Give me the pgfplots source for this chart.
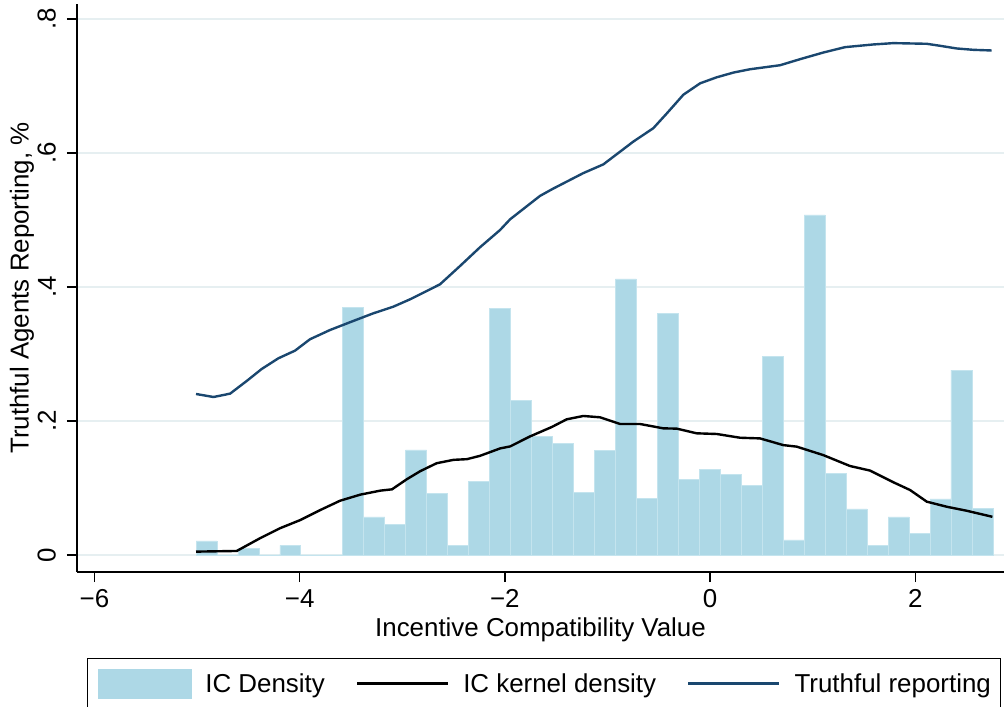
\documentclass[border=0pt]{standalone}
\usepackage{fontspec}
\setmainfont{Liberation Sans}
\usepackage{pgfplots}
\pgfplotsset{compat=1.18}
\definecolor{icblue}{RGB}{173,216,230}
\definecolor{icedge}{RGB}{196,228,238}
\definecolor{navyst}{RGB}{26,71,111}
\definecolor{gridc}{RGB}{230,239,241}
\pgfplotsset{
  lineleg/.style={legend image code/.code={\draw[##1] (0bp,0bp) -- (91bp,0bp);}},
  barleg/.style={legend image code/.code={\fill[icblue] (0bp,-14.5bp) rectangle (93bp,14.5bp);}},
}
\begin{document}
\begin{tikzpicture}
\begin{axis}[
  at={(0,0)}, anchor=south west,
  scale only axis,
  width=927bp, height=568bp,
  xmin=-6.170, xmax=2.865,
  ymin=-0.0254, ymax=0.8224,
  axis lines*=left,
  axis line style={black, line width=1.3bp},
  every tick/.style={black, line width=1.3bp},
  tick align=outside,
  major tick length=10bp,
  xtick={-6,-4,-2,0,2},
  xticklabels={−6,−4,−2,0,2},
  ytick={0,0.2,0.4,0.6,0.8},
  yticklabels={0,.2,.4,.6,.8},
  ymajorgrids,
  grid style={gridc, line width=2bp},
  tick label style={font=\fontsize{26}{30}\selectfont},
  xticklabel style={anchor=north, inner sep=0pt},
  xticklabel shift=7bp,
  yticklabel style={rotate=90, anchor=south, inner sep=0pt},
  yticklabel shift=11bp,
  label style={font=\fontsize{26}{30}\selectfont},
  xlabel={Incentive Compatibility Value},
  xlabel style={at={(axis description cs:0.5,0)}, anchor=base, yshift=-64bp, inner sep=0pt},
  ylabel={Truthful Agents Reporting, \%},
  ylabel style={at={(axis description cs:0,0.5)}, anchor=center, yshift=55bp, inner sep=0pt},
  legend columns=3,
  legend style={at={(rel axis cs:0,0)}, anchor=north west, xshift=10bp, yshift=-86bp,
    draw=black, line width=1.2bp, inner xsep=10bp, inner ysep=10bp,
    font=\fontsize{26}{30}\selectfont, cells={anchor=west}, nodes={inner sep=0pt},
    /tikz/every odd column/.append style={column sep=14bp},
    /tikz/every even column/.append style={column sep=31bp}},
]
\addplot[ybar interval, fill=icblue, draw=icedge, line width=0.8bp, barleg] coordinates {
(-5.010,0.021) (-4.806,0) (-4.601,0.0095) (-4.397,0) (-4.192,0.0145)
(-3.988,0) (-3.784,0) (-3.579,0.370) (-3.375,0.0567) (-3.170,0.0453)
(-2.966,0.1567) (-2.762,0.0915) (-2.557,0.0149) (-2.353,0.1095) (-2.148,0.3676)
(-1.944,0.2313) (-1.740,0.177) (-1.535,0.1667) (-1.331,0.0935) (-1.126,0.1557)
(-0.922,0.412) (-0.718,0.085) (-0.513,0.360) (-0.309,0.1124) (-0.104,0.128)
(0.100,0.1204) (0.304,0.1035) (0.509,0.296) (0.713,0.0224) (0.918,0.5075)
(1.122,0.1214) (1.326,0.0687) (1.531,0.0139) (1.735,0.0567) (1.940,0.0318)
(2.144,0.0836) (2.348,0.276) (2.553,0.070) (2.757,0.070)
};
\addlegendentry{IC Density}
\addplot[black, line width=2.4bp, lineleg] coordinates {
(-5.010,0.005) (-4.613,0.006) (-4.386,0.025) (-4.190,0.040) (-3.996,0.052)
(-3.800,0.067) (-3.606,0.081) (-3.410,0.090) (-3.216,0.096) (-3.100,0.098)
(-2.956,0.113) (-2.826,0.125) (-2.664,0.137) (-2.500,0.142) (-2.370,0.143)
(-2.242,0.148) (-2.047,0.159) (-1.949,0.162) (-1.754,0.177) (-1.543,0.191)
(-1.397,0.2025) (-1.235,0.2075) (-1.072,0.2055) (-0.877,0.1955) (-0.682,0.1955)
(-0.455,0.189) (-0.325,0.1886) (-0.130,0.1816) (0.065,0.1806) (0.292,0.175)
(0.487,0.174) (0.714,0.164) (0.845,0.1617) (1.105,0.149) (1.364,0.1328)
(1.559,0.126) (1.787,0.1085) (1.949,0.097) (2.112,0.0796) (2.307,0.072)
(2.502,0.066) (2.752,0.057)
};
\addlegendentry{IC kernel density}
\addplot[navyst, line width=2.4bp, lineleg] coordinates {
(-5.010,0.2403) (-4.840,0.2358) (-4.678,0.2408) (-4.516,0.2597) (-4.370,0.2776)
(-4.207,0.2936) (-4.045,0.305) (-3.899,0.322) (-3.704,0.3358) (-3.477,0.3493)
(-3.282,0.3607) (-3.087,0.3706) (-2.924,0.3816) (-2.761,0.394) (-2.632,0.404)
(-2.437,0.4313) (-2.242,0.4593) (-2.047,0.485) (-1.949,0.501) (-1.657,0.536)
(-1.527,0.547) (-1.235,0.570) (-1.040,0.583) (-0.748,0.617) (-0.553,0.637)
(-0.422,0.659) (-0.260,0.687) (-0.097,0.704) (0.065,0.713) (0.227,0.720)
(0.390,0.725) (0.682,0.731) (0.877,0.740) (1.105,0.750) (1.316,0.758)
(1.592,0.762) (1.787,0.764) (2.112,0.763) (2.242,0.760) (2.404,0.756)
(2.566,0.754) (2.745,0.753)
};
\addlegendentry{Truthful reporting}
\end{axis}
\pgfresetboundingbox
\useasboundingbox (-77bp,-135bp) rectangle (928bp,572bp);
\end{tikzpicture}
\end{document}
